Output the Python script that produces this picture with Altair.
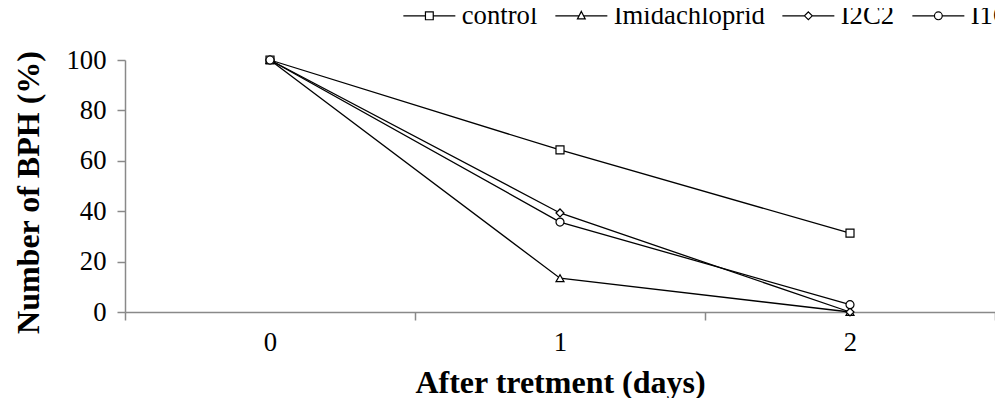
import altair as alt
import pandas as pd

days = ["0", "1", "2"]
series = ["control", "Imidachloprid", "I2C2", "I1C3"]
control = [100, 64.3, 31.3]
imidachloprid = [100, 13.4, 0]
i2c2 = [100, 39.3, 0]
i1c3 = [100, 35.7, 2.9]

rows = []
for name, vals in zip(series, [control, imidachloprid, i2c2, i1c3]):
    for d, v in zip(days, vals):
        rows.append({"day": d, "value": v, "series": name})
df = pd.DataFrame(rows)

FONT = "Liberation Serif"
GREY = "#898989"

plot_shapes = ["square", "triangle-up", "diamond", "circle"]
ln = "M-1.6,0H0.61M1.39,0H3.6"
legend_shapes = [
    ln + "M0.61,-0.39H1.39V0.39H0.61Z",
    "M-1.6,0H0.77M1.23,0H3.6M1,-0.44L1.39,0.31L0.61,0.31Z",
    ln + "M1,-0.39L1.39,0L1,0.39L0.61,0Z",
    ln + "M1.39,0A0.39,0.39 0 1,1 0.61,0A0.39,0.39 0 1,1 1.39,0Z",
]

x_enc = alt.X("day:O", scale=alt.Scale(type="band", paddingInner=0, paddingOuter=0),
              axis=alt.Axis(title="After tretment (days)", labelAngle=0, tickBand="extent",
                            domainColor=GREY, tickColor=GREY, domainWidth=1.5, tickWidth=1.5,
                            tickSize=8, labelPadding=9, labelFont=FONT, labelFontSize=26.7,
                            labelColor="black", titleFont=FONT, titleFontSize=32,
                            titleFontWeight="bold", titleColor="black",
                            titleY=70, titleBaseline="middle"))
y_enc = alt.Y("value:Q", scale=alt.Scale(domain=[0, 100], nice=False),
              axis=alt.Axis(title="Number of BPH (%)", values=[0, 20, 40, 60, 80, 100],
                            grid=False, domainColor=GREY, tickColor=GREY, domainWidth=1.5,
                            tickWidth=1.5, tickSize=8, labelPadding=11, labelFont=FONT,
                            labelFontSize=26.7, labelColor="black", titleFont=FONT,
                            titleFontSize=32, titleFontWeight="bold", titleColor="black",
                            titleX=-97, titleY=132, titleBaseline="middle", titleAlign="center"))

base = alt.Chart(df)

lines = base.mark_line(color="black", strokeWidth=1.3).encode(
    x=x_enc, y=y_enc, detail="series:N")

points = base.mark_point(filled=True, fill="white", stroke="black", strokeWidth=1.2,
                         size=64, opacity=1).encode(
    x=x_enc, y=y_enc,
    shape=alt.Shape("series:N", scale=alt.Scale(domain=series, range=plot_shapes), legend=None))

ghost = base.transform_filter("datum.value < -1000").mark_point(
    filled=False, color="black", strokeWidth=1.2, size=400, opacity=1).encode(
    x=x_enc, y=y_enc,
    shape=alt.Shape("series:N", scale=alt.Scale(domain=series, range=legend_shapes),
                    legend=alt.Legend(title=None, orient="none", legendX=281, legendY=-58,
                                      direction="horizontal", columns=4, symbolOpacity=1,
                                      symbolStrokeColor="black", symbolStrokeWidth=1.2,
                                      symbolSize=400, labelFont=FONT, labelFontSize=26.7,
                                      labelColor="black", labelOffset=29, columnPadding=14)))

chart = alt.layer(lines, points, ghost).resolve_scale(shape="independent").properties(
    width=870, height=252,
    autosize=alt.AutoSizeParams(type="none"),
    padding={"left": 117, "top": 52, "right": 0, "bottom": 86},
).configure_view(stroke=None)

chart.save("out.html", embed_options={"renderer": "svg", "actions": False})
